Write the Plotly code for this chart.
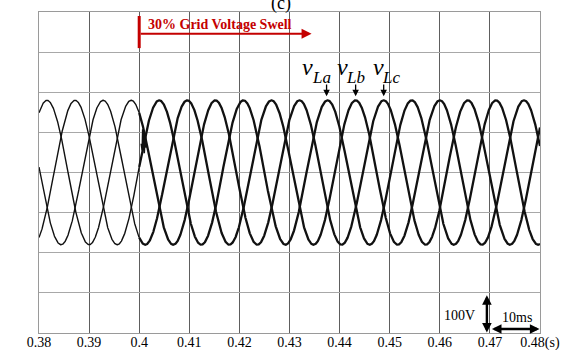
import numpy as np
import plotly.graph_objects as go

# ---- data -------------------------------------------------------------
time_range_s = [0.38, 0.48]
x_ticks = [0.38, 0.39, 0.40, 0.41, 0.42, 0.43, 0.44, 0.45, 0.46, 0.47, 0.48]
x_tick_labels = ["0.38", "0.39", "0.4", "0.41", "0.42", "0.43", "0.44",
                 "0.45", "0.46", "0.47", "0.48(s)"]
volt_range = [-400, 400]          # 8 divisions of 100 V
volt_ticks = [-300, -200, -100, 0, 100, 200, 300]

phase_subscripts = ["La", "Lb", "Lc"]
phase_first_crest_s = [0.3872, 0.3928, 0.3984]   # first crest of each phase
amplitude_before_V = [180, 180, 180]
amplitude_after_V = [180, 180, 180]
period_s = 0.0168
swell_time_s = 0.40

# disturbance on v_La right after the swell starts
glitch_t = [0.4004, 0.4006, 0.4007, 0.4008, 0.4009, 0.4010, 0.4012, 0.4014]
glitch_v = [72, 55, 108, 60, 100, 48, 92, 62]

# ---- figure -----------------------------------------------------------
SERIF = "Liberation Serif, Times New Roman, serif"
t = np.linspace(time_range_s[0], time_range_s[1], 4001)
pre = t <= swell_time_s
post = t >= swell_time_s

fig = go.Figure()
for crest, a0, a1 in zip(phase_first_crest_s, amplitude_before_V, amplitude_after_V):
    wave0 = a0 * np.cos(2 * np.pi * (t - crest) / period_s)
    wave1 = a1 * np.cos(2 * np.pi * (t - crest) / period_s)
    fig.add_trace(go.Scatter(x=t[pre], y=wave0[pre], mode="lines",
                             line=dict(color="#111111", width=1.4),
                             hoverinfo="skip", showlegend=False))
    fig.add_trace(go.Scatter(x=t[post], y=wave1[post], mode="lines",
                             line=dict(color="#111111", width=2.3),
                             hoverinfo="skip", showlegend=False))

fig.add_trace(go.Scatter(x=glitch_t, y=glitch_v, mode="lines",
                         line=dict(color="#111111", width=1.6),
                         hoverinfo="skip", showlegend=False))

red = "#c40000"
fig.add_shape(type="line", x0=swell_time_s, x1=swell_time_s, y0=310, y1=390,
              xref="x", yref="y", line=dict(color=red, width=3))

annotations = [
    # swell marker
    dict(x=0.4344, y=346, ax=swell_time_s, ay=346, xref="x", yref="y",
         axref="x", ayref="y", text="", showarrow=True, arrowhead=2,
         arrowsize=1, arrowwidth=2, arrowcolor=red),
    dict(x=0.4013, y=369, xref="x", yref="y", xanchor="left", yanchor="middle",
         text="<b>30% Grid Voltage Swell</b>", showarrow=False,
         font=dict(family=SERIF, size=14, color=red)),
    # zero level
    dict(x=0.3768, y=20, xref="x", yref="y", xanchor="center", yanchor="middle",
         text="0V", showarrow=False, font=dict(family=SERIF, size=14, color="black")),
    dict(x=0.3799, y=0, ax=0.3772, ay=0, xref="x", yref="y", axref="x", ayref="y",
         text="", showarrow=True, arrowhead=2, arrowsize=1, arrowwidth=1.3,
         arrowcolor="black"),
    # scale bars
    dict(x=0.4694, y=-399, ax=0.4694, ay=-302, xref="x", yref="y", axref="x",
         ayref="y", text="", showarrow=True, arrowhead=2, arrowside="end+start",
         arrowsize=0.8, arrowwidth=2.4, arrowcolor="black"),
    dict(x=0.4640, y=-357, xref="x", yref="y", xanchor="center", yanchor="middle",
         text="100V", showarrow=False, font=dict(family=SERIF, size=14, color="black")),
    dict(x=0.4799, y=-390, ax=0.4701, ay=-390, xref="x", yref="y", axref="x",
         ayref="y", text="", showarrow=True, arrowhead=2, arrowside="end+start",
         arrowsize=0.8, arrowwidth=2.4, arrowcolor="black"),
    dict(x=0.4754, y=-361, xref="x", yref="y", xanchor="center", yanchor="middle",
         text="10ms", showarrow=False, font=dict(family=SERIF, size=14, color="black")),
    # panel tag, mostly above the page
    dict(x=0.484, y=1.0, xref="paper", yref="paper", xanchor="center",
         yanchor="bottom", yshift=-4, text="(c)", showarrow=False,
         font=dict(family=SERIF, size=18, color="black")),
]

# phase labels (italic v with a lowered subscript) and pointers to their crests
v_x = [0.4336, 0.4405, 0.4477]
sub_x = [0.4363, 0.4432, 0.4502]
pointer_x = [0.4374, 0.4432, 0.4488]
for sub, vx, sx, px in zip(phase_subscripts, v_x, sub_x, pointer_x):
    annotations.append(dict(x=vx, y=262, xref="x", yref="y", xanchor="center",
                            yanchor="middle", text="<i>v</i>", showarrow=False,
                            font=dict(family=SERIF, size=24, color="black")))
    annotations.append(dict(x=sx, y=238, xref="x", yref="y", xanchor="center",
                            yanchor="middle", text="<i>" + sub + "</i>",
                            showarrow=False,
                            font=dict(family=SERIF, size=17, color="black")))
    annotations.append(dict(x=px, y=190, ax=px, ay=223, xref="x", yref="y",
                            axref="x", ayref="y", text="", showarrow=True,
                            arrowhead=2, arrowsize=1, arrowwidth=1.3,
                            arrowcolor="black"))

fig.update_layout(
    width=565, height=350,
    margin=dict(l=39, r=25, t=12, b=17, autoexpand=False),
    paper_bgcolor="white", plot_bgcolor="white",
    annotations=annotations,
    font=dict(family=SERIF, size=14, color="black"),
)
fig.update_xaxes(range=time_range_s, tickvals=x_ticks, ticktext=x_tick_labels,
                 showgrid=True, gridcolor="#5e5e5e", gridwidth=1, zeroline=False,
                 showline=True, linecolor="#9a9a9a", mirror=True, ticks="",
                 ticklen=0, ticklabelstandoff=-4, automargin=False,
                 tickfont=dict(family=SERIF, size=14, color="black"))
fig.update_yaxes(range=volt_range, tickvals=volt_ticks, showticklabels=False,
                 showgrid=True, gridcolor="#a8a8a8", gridwidth=1, zeroline=False,
                 showline=True, linecolor="#9a9a9a", mirror=True, ticks="",
                 automargin=False)

fig.write_html("out.html")
